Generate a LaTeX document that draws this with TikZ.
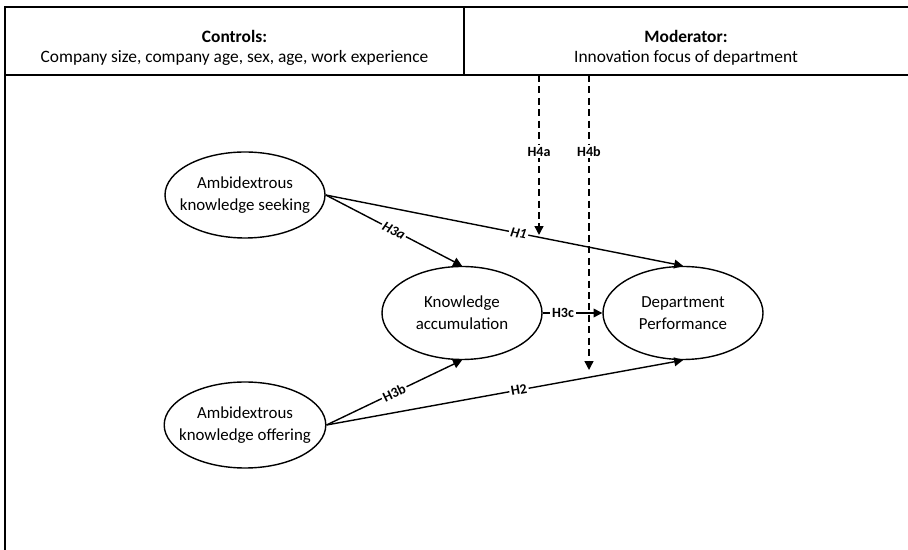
\documentclass[tikz,border=0pt]{standalone}
\usepackage{fontspec}
\setmainfont{Carlito}
\usetikzlibrary{positioning,shapes.geometric,arrows.meta}

\tikzset{
	frame/.style={line width=0.8pt},
	header/.style={align=center, font=\fontsize{9.9}{11.4}\selectfont},
	construct/.style={ellipse, draw, line width=0.8pt, align=center, inner xsep=-5pt, inner ysep=0pt, minimum width=3.2cm, minimum height=1.72cm, font=\fontsize{9.6}{12.5}\selectfont},
	hyp/.style={line width=0.8pt, -{Triangle[length=5pt,width=5pt]}},
	moder/.style={hyp, dash pattern=on 4pt off 2.5pt},
	hlabel/.style={fill=white, inner sep=1pt, font=\fontsize{8}{9}\selectfont\bfseries},
}

\begin{document}
\begin{tikzpicture}
	\useasboundingbox (0,0) rectangle (18.16,11);

	\draw[frame] (0.1,0) -- (0.1,10.86) -- (18.16,10.86);
	\draw[frame] (0.1,9.5) -- (18.16,9.5);
	\draw[frame] (9.28,9.5) -- (9.28,10.86);

	\node[header] (ctrl) at (4.69,10.04) {\textbf{Controls:}\\Company size, company age, sex, age, work experience};
	\node[header] (mod) at (13.72,10.04) {\textbf{Moderator:}\\Innovation focus of department};

	\node[construct] (seek) at (4.9,7.1) {Ambidextrous\\knowledge seeking};
	\node[construct, on grid, below=4.6cm of seek] (offer) {Ambidextrous\\knowledge offering};
	\node[construct, minimum height=1.86cm, on grid, below right=2.36cm and 4.34cm of seek] (accum) {Knowledge\\accumulation};
	\node[construct, minimum height=1.86cm, on grid, right=4.42cm of accum] (perf) {Department\\Performance};

	\coordinate (m1) at (10.78,9.5);
	\coordinate (m1end) at (10.78,6.3);
	\coordinate (m2) at (11.78,9.5);
	\coordinate (m2end) at (11.78,3.6);

	\draw[hyp] (seek.east) -- node[hlabel, sloped, pos=0.54] {\textit{H1}} (perf.north);
	\draw[hyp] (seek.east) -- node[hlabel, sloped] {\textit{H3a}} (accum.north);
	\draw[hyp] (offer.east) -- node[hlabel, sloped] {H3b} (accum.south);
	\draw[hyp] (offer.east) -- node[hlabel, sloped, pos=0.54] {H2} (perf.south);
	\draw[hyp] (accum) -- node[hlabel, pos=0.34] {H3c} (perf);

	\draw[moder] (m1) -- node[hlabel, pos=0.48] {H4a} (m1end);
	\draw[moder] (m2) -- node[hlabel, pos=0.26] {H4b} (m2end);
\end{tikzpicture}
\end{document}
